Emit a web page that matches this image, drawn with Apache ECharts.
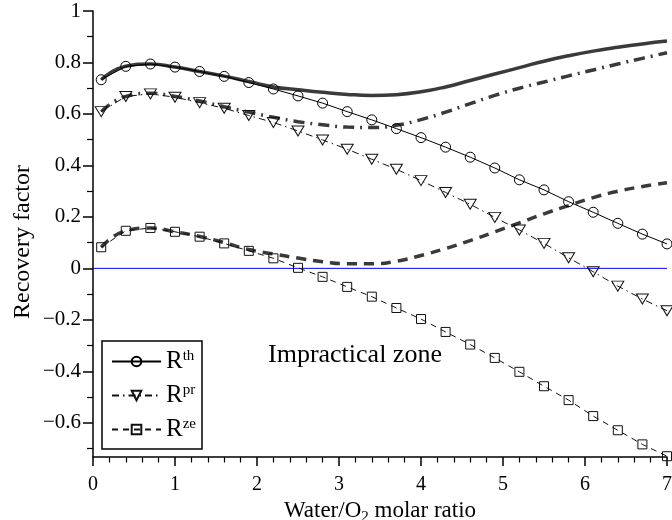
<!DOCTYPE html>
<html>
<head>
<meta charset="utf-8">
<script src="https://cdn.jsdelivr.net/npm/echarts@6/dist/echarts.min.js"></script>
<style>html,body{margin:0;padding:0;background:#fff}#c{width:672px;height:520px}</style>
</head>
<body>
<div id="c"></div>
<script>
// ---- data ----
const xValues = [0.1,0.4,0.7,1.0,1.3,1.6,1.9,2.2,2.5,2.8,3.1,3.4,3.7,4.0,4.3,4.6,4.9,5.2,5.5,5.8,6.1,6.4,6.7,7.0];
// thin lines with markers
const rTh = [0.733,0.785,0.794,0.782,0.765,0.746,0.722,0.697,0.670,0.642,0.609,0.577,0.543,0.508,0.471,0.432,0.390,0.344,0.305,0.259,0.218,0.175,0.133,0.095];
const rPr = [0.609,0.668,0.678,0.665,0.644,0.622,0.594,0.567,0.534,0.499,0.463,0.424,0.385,0.341,0.295,0.249,0.198,0.149,0.097,0.041,-0.013,-0.069,-0.119,-0.165];
const rZe = [0.082,0.146,0.157,0.142,0.123,0.097,0.068,0.039,0.002,-0.033,-0.072,-0.110,-0.154,-0.197,-0.247,-0.296,-0.348,-0.402,-0.458,-0.512,-0.574,-0.629,-0.684,-0.730];
// thick lines without markers
const rThThick = [0.733,0.785,0.794,0.782,0.765,0.747,0.726,0.705,0.694,0.684,0.676,0.672,0.675,0.686,0.705,0.730,0.755,0.780,0.805,0.826,0.844,0.859,0.872,0.883];
const rPrThick = [0.609,0.668,0.680,0.668,0.650,0.628,0.607,0.587,0.570,0.558,0.549,0.547,0.556,0.578,0.607,0.640,0.672,0.700,0.724,0.748,0.771,0.794,0.816,0.838];
const rZeThick = [0.082,0.146,0.157,0.142,0.124,0.100,0.073,0.056,0.040,0.026,0.018,0.018,0.028,0.050,0.077,0.108,0.142,0.177,0.212,0.244,0.275,0.300,0.318,0.333];
const seriesNames = ['th','pr','ze'];
const xTicks = [0,1,2,3,4,5,6,7];
const yMajorTicks = [-0.6,-0.4,-0.2,0,0.2,0.4,0.6,0.8,1];
const yMinorTicks = [-0.7,-0.5,-0.3,-0.1,0.1,0.3,0.5,0.7,0.9];
const yRange = [-0.733, 1];
const zeroLine = [0,7];

const FONT = '"Liberation Serif","Times New Roman",serif';
const pair = ys => xValues.map((x,i)=>[x, ys[i]]);
const fmtY = v => { const r = Math.round(v*10)/10; return r < 0 ? '\u2212' + String(-r) : String(r); };

const thinCommon = {type:'line', z:4, smooth:false, symbolKeepAspect:true,
  emphasis:{disabled:true}};
const thickCommon = {type:'line', z:3, smooth:true, showSymbol:false, symbol:'none',
  emphasis:{disabled:true}};
const thickColor = '#3a3a3a';

const chart = echarts.init(document.getElementById('c'), null, {renderer:'canvas'});
chart.setOption({
  animation:false,
  backgroundColor:'#fff',
  grid:{left:93, right:5, top:11, bottom:63, containLabel:false, outerBoundsMode:'none'},
  xAxis:{type:'value', min:xTicks[0], max:xTicks[xTicks.length-1], interval:1,
    name:'Water/O{sub|2} molar ratio', nameLocation:'middle', nameGap:35,
    nameTextStyle:{fontFamily:FONT, fontSize:23, color:'#000',
      rich:{sub:{fontFamily:FONT, fontSize:15, verticalAlign:'bottom', padding:[12,0,0,0], color:'#000'}}},
    axisLine:{show:true, onZero:false, lineStyle:{color:'#000', width:1.5}},
    axisTick:{show:true, length:9, lineStyle:{color:'#000', width:1.5}},
    minorTick:{show:true, splitNumber:5, length:5.5, lineStyle:{color:'#000', width:1.2}},
    axisLabel:{fontFamily:FONT, fontSize:20, color:'#000', margin:18},
    splitLine:{show:false}, minorSplitLine:{show:false}},
  yAxis:[{type:'value', min:yRange[0], max:yRange[1], position:'left',
    axisLine:{show:true, onZero:false, lineStyle:{color:'#000', width:1.5}},
    axisTick:{show:true, length:10, customValues:yMajorTicks, lineStyle:{color:'#000', width:1.5}},
    axisLabel:{fontFamily:FONT, fontSize:21, color:'#000', margin:12, customValues:yMajorTicks, formatter:fmtY},
    splitLine:{show:false}},
   {type:'value', min:yRange[0], max:yRange[1], position:'left',
    axisLine:{show:false, onZero:false},
    axisTick:{show:true, length:6, customValues:yMinorTicks, lineStyle:{color:'#000', width:1.2}},
    axisLabel:{show:false, customValues:yMinorTicks},
    splitLine:{show:false}}],
  legend:{show:true, data:seriesNames, orient:'vertical', left:102, top:341,
    selectedMode:false, backgroundColor:'#fff', borderColor:'#000', borderWidth:1.5, borderRadius:0,
    padding:[8,6,7,9], itemGap:9, itemWidth:49, itemHeight:12,
    formatter: n => 'R{sup|' + n + '}',
    textStyle:{fontFamily:FONT, fontSize:25, color:'#000', padding:[0,0,0,0],
      rich:{sup:{fontFamily:FONT, fontSize:15, color:'#000', verticalAlign:'top', padding:[0,0,8,0]}}}},
  graphic:[{type:'text', left:268, top:342, z:10, silent:true,
    style:{text:'Impractical zone', font:'26px ' + FONT, fill:'#000'}},
    {type:'text', x:23, y:242, rotation:Math.PI/2, z:10, silent:true,
    style:{text:'Recovery factor', font:'24px ' + FONT, fill:'#000', align:'center', verticalAlign:'middle'}}],
  series:[
    Object.assign({}, thickCommon, {name:'thTh', data:pair(rThThick), lineStyle:{color:thickColor, width:3.5, type:'solid'}, itemStyle:{color:thickColor}}),
    Object.assign({}, thickCommon, {name:'prTh', data:pair(rPrThick), lineStyle:{color:thickColor, width:3.5, type:[11,6,2,6]}, itemStyle:{color:thickColor}}),
    Object.assign({}, thickCommon, {name:'zeTh', data:pair(rZeThick), lineStyle:{color:thickColor, width:3.5, type:[10,7]}, itemStyle:{color:thickColor}}),
    {type:'line', name:'zero', data:[[zeroLine[0],0],[zeroLine[1],0]], z:2, symbol:'none', silent:true,
      lineStyle:{color:'#0000ff', width:1}, emphasis:{disabled:true}},
    Object.assign({}, thinCommon, {name:seriesNames[0], data:pair(rTh), symbol:'circle', symbolSize:10,
      lineStyle:{color:'#000', width:1, type:'solid'},
      itemStyle:{color:'rgba(255,255,255,0)', borderColor:'#000', borderWidth:1}}),
    Object.assign({}, thinCommon, {name:seriesNames[1], data:pair(rPr), symbol:'triangle', symbolRotate:180, symbolSize:[12,10],
      lineStyle:{color:'#111', width:1, type:[7,4,1.5,4]},
      itemStyle:{color:'rgba(255,255,255,0)', borderColor:'#111', borderWidth:1}}),
    Object.assign({}, thinCommon, {name:seriesNames[2], data:pair(rZe), symbol:'rect', symbolSize:9,
      lineStyle:{color:'#111', width:1, type:[6,5]},
      itemStyle:{color:'rgba(255,255,255,0)', borderColor:'#111', borderWidth:1}})
  ]
});
</script>
</body>
</html>
